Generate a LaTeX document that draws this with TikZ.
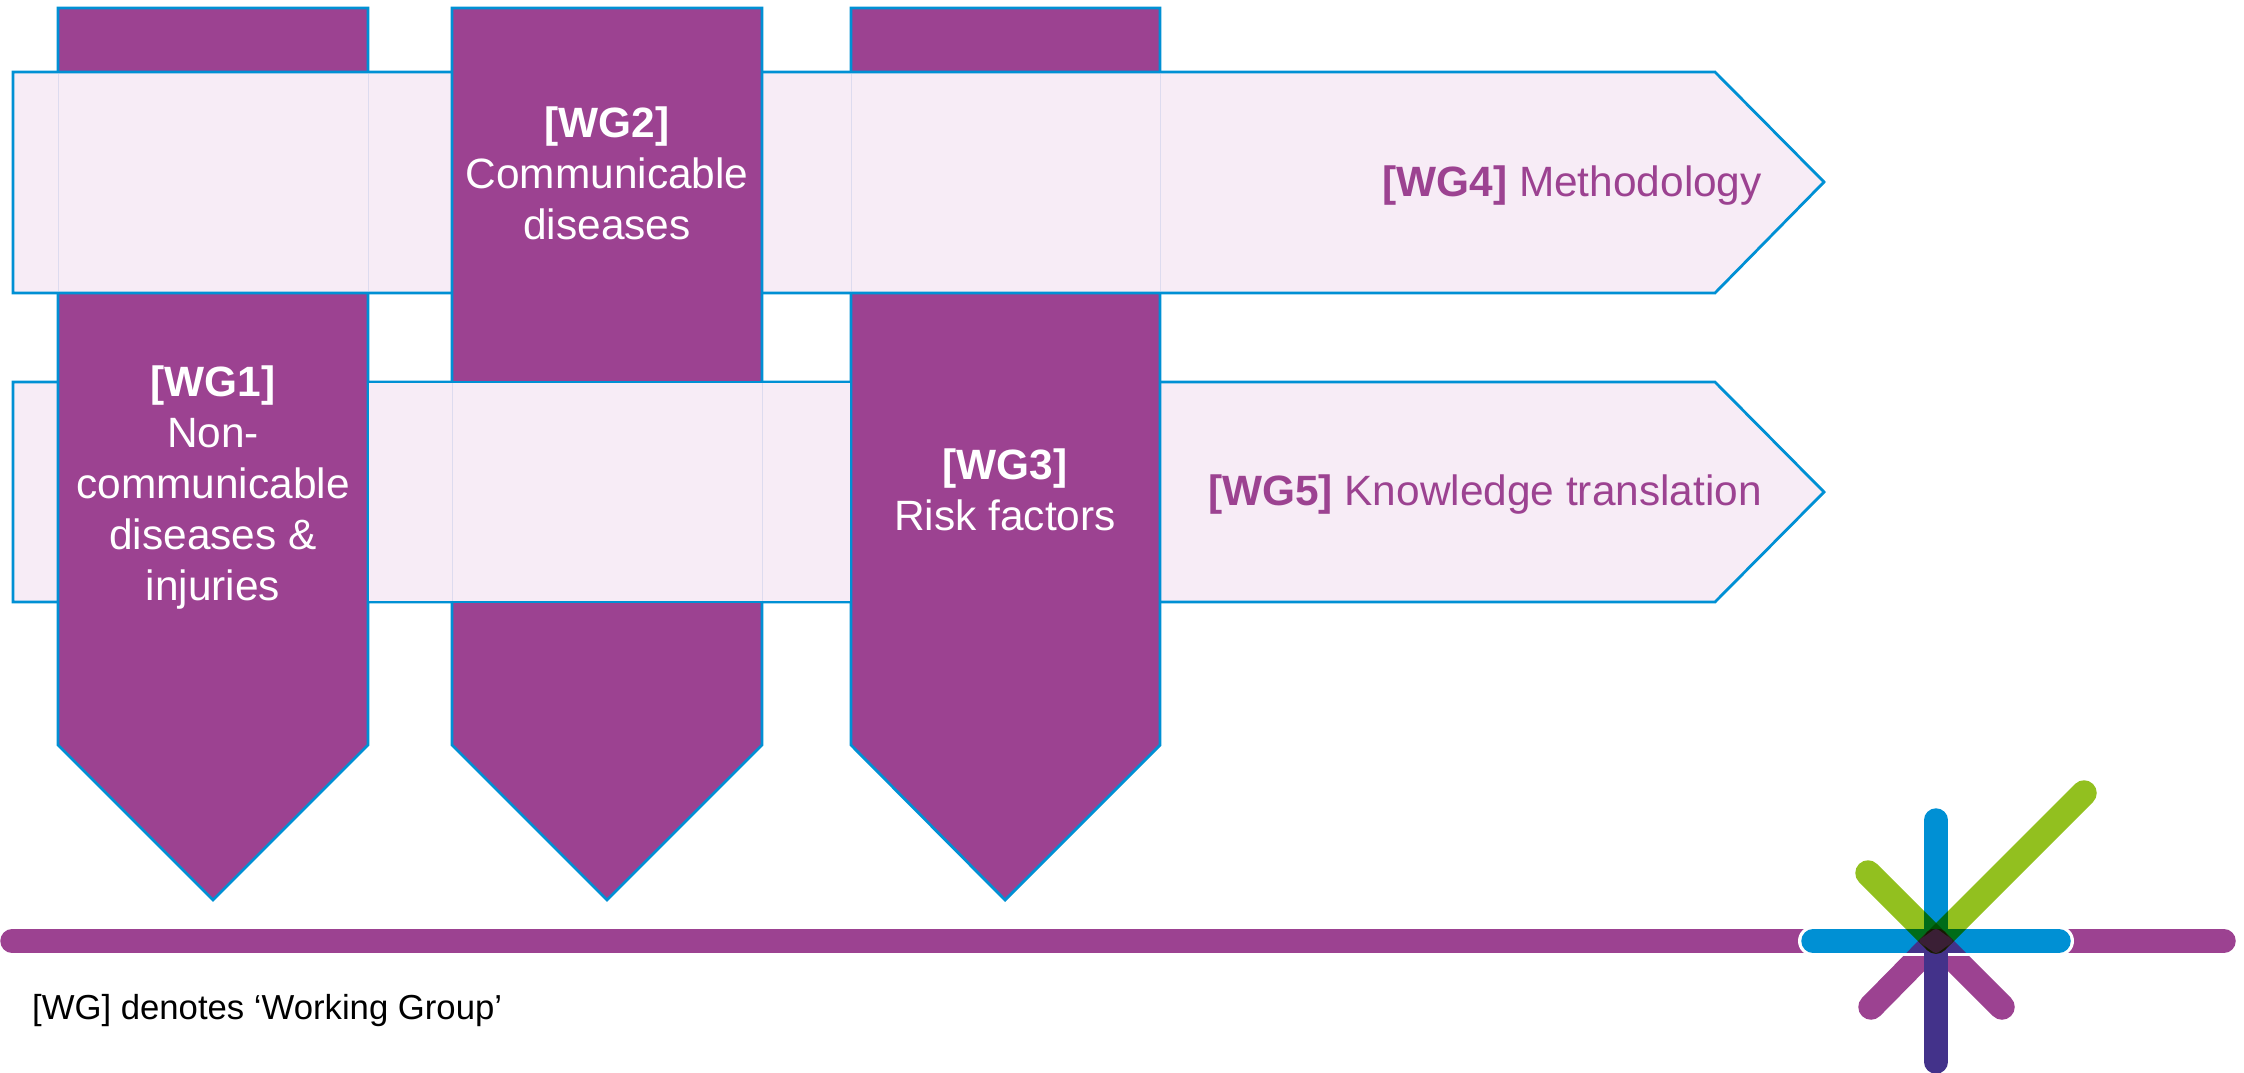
\documentclass[tikz,border=0pt]{standalone}
\usepackage{fontspec}
\setmainfont{Liberation Sans}
\definecolor{wgpurple}{HTML}{9C4291}
\definecolor{wgpale}{HTML}{F7ECF6}
\definecolor{wgblue}{HTML}{0090D4}
\definecolor{wggreen}{HTML}{92C01F}
\definecolor{wgindigo}{HTML}{43328A}
\definecolor{wgfaint}{HTML}{DDDBEF}
\definecolor{wghub}{HTML}{3A1F35}
\tikzset{
  x=1pt,y=-1pt,
  column/.style={fill=wgpurple,draw=wgblue,line width=2.8pt,line join=miter},
  band/.style={fill=wgpale,draw=wgblue,line width=2.8pt,line join=miter},
  edge/.style={draw=wgblue,line width=2.8pt},
  faint/.style={draw=wgfaint,line width=1pt},
  collabel/.style={text=white,align=center,font=\fontsize{42.4}{51}\selectfont,inner sep=0pt},
  bandlabel/.style={text=wgpurple,anchor=east,font=\fontsize{42.4}{51}\selectfont,inner sep=0pt},
  arm/.style={line width=23.5pt,line cap=round},
  diag/.style={line width=25.5pt,line cap=round},
}
\begin{document}
\begin{tikzpicture}
\useasboundingbox (0,0) rectangle (2244,1073);
% WG5 band (lowest)
\draw[band] (13,382) -- (1715,382) -- (1824,492) -- (1715,602) -- (13,602) -- cycle;
% WG1 and WG3 columns
\draw[column] (58,8) -- (368,8) -- (368,745) -- (213,900) -- (58,745) -- cycle;
\draw[column] (851,8) -- (1160,8) -- (1160,745) -- (1005,900) -- (851,745) -- cycle;
% WG4 band
\draw[band] (13,72) -- (1715,72) -- (1824,182) -- (1715,293) -- (13,293) -- cycle;
\draw[faint] (58,74) -- (58,291) (368,74) -- (368,291) (851,74) -- (851,291) (1160,74) -- (1160,291);
% WG2 column
\draw[column] (452,8) -- (762,8) -- (762,745) -- (607,900) -- (452,745) -- cycle;
% WG5 band crossing over WG2
\path[fill=wgpale] (369.4,382) rectangle (849.6,602);
\draw[edge] (368,382) -- (851,382) (368,602) -- (851,602);
\draw[faint] (452,383.4) -- (452,600.6) (762,383.4) -- (762,600.6);
% labels
\node[collabel] (wg1) at (213,488) {\textbf{[WG1]}\\Non-\\communicable\\diseases \&\\injuries};
\node[collabel] (wg2) at (607,173) {\textbf{[WG2]}\\Communicable\\diseases};
\node[collabel] (wg3) at (1005,490) {\textbf{[WG3]}\\Risk factors};
\node[bandlabel] (wg4) at (1762,186) {\textbf{[WG4]} Methodology};
\node[bandlabel] (wg5) at (1762,495) {\textbf{[WG5]} Knowledge translation};
\node[anchor=west,inner sep=0pt,font=\fontsize{34.7}{42}\selectfont] (note) at (32,1011) {[WG] denotes ‘Working Group’};
% timeline and logo
\coordinate (hub) at (1936,941);
\draw[arm,wgpurple] (12,941) -- (2224,941);
\draw[diag,wgpurple] (hub) -- (1871,1007);
\draw[diag,wgpurple] (hub) -- (2002,1007);
\draw[line width=30pt,line cap=round,white] (1813,941) -- (2059,941);
\draw[arm,wgblue] (1813,941) -- (2059,941);
\draw[arm,wgblue] (1936,820) -- (hub);
\begin{scope}
\clip (1800,929.25) rectangle (2070,952.75);
\draw[diag,wgindigo] (hub) -- (1871,1007);
\draw[diag,wgindigo] (hub) -- (2002,1007);
\end{scope}
\draw[arm,wgindigo,line cap=butt] (1936,941) -- (1936,1062);
\draw[arm,wgindigo] (1936,1000) -- (1936,1062);
\begin{scope}[blend mode=multiply]
\draw[diag,wggreen] (2084,793) -- (hub);
\draw[diag,wggreen] (1868,873) -- (hub);
\end{scope}
\fill[wghub,rounded corners=3pt] (1936,928) -- (1954,941) -- (1936,954) -- (1918,941) -- cycle;
\end{tikzpicture}
\end{document}
